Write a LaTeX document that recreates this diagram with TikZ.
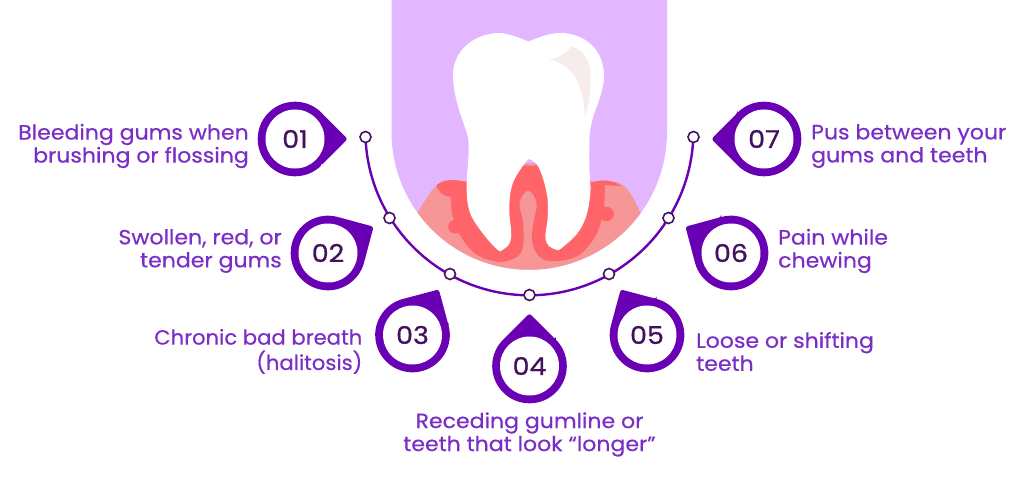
\documentclass[tikz,border=0pt]{standalone}
\usepackage{fontspec}
\setmainfont{Poppins}[FakeStretch=1.07,FakeBold=0.45]
\newfontfamily\numfont{Poppins}[FakeStretch=1.1,FakeBold=0.8]
\definecolor{lav}{HTML}{E2B7FF}
\definecolor{gumlight}{HTML}{F69696}
\definecolor{gumred}{HTML}{FF6468}
\definecolor{ring}{HTML}{6A00B4}
\definecolor{numc}{HTML}{43125F}
\definecolor{labc}{HTML}{7A2EC6}
\definecolor{shine}{HTML}{F6ECEC}
\tikzset{
  lab/.style={text=labc,font=\fontsize{20.6}{23}\selectfont,inner sep=0pt},
  num/.style={text=numc,font=\numfont\fontsize{24.5}{26}\selectfont,inner sep=0pt},
  dot/.style={circle,draw=numc,fill=white,line width=1.6pt,minimum size=11pt,inner sep=0pt}
}
\begin{document}
\begin{tikzpicture}[x=1pt,y=1pt,yscale=-1]
\useasboundingbox (0,0) rectangle (1025,500);
\fill[white] (0,0) rectangle (1025,500);
% lavender U
\fill[lav] (391.5,0) -- (391.5,132) arc (180:0:137.75) -- (667,0) -- cycle;
\begin{scope}
\clip (391.5,0) -- (391.5,132) arc (180:0:137.75) -- (667,0) -- cycle;
% gum
\fill[gumlight] (410,225) -- plot[smooth,tension=.7] coordinates {(418.3,211.7) (436.7,185) (453.3,180) (466.7,182)}
  -- (480,163.3) -- (580,163.3) -- (591.7,182.3) -- plot[smooth,tension=.7] coordinates {(591.7,182.3) (605,180.7) (625,186.7) (640,211.7)}
  -- (650,225) -- (650,300) -- (410,300) -- cycle;
% inflamed band
\fill[gumred] (436.7,185) .. controls (442,181) and (448,180) .. (453.3,180) -- (466.7,182)
  -- (480,165.5) -- (580,165.5) -- (591.7,182.3) .. controls (600,180) and (608,180) .. (614.3,182.3)
  -- (621.7,186) -- (605,185)
  -- (604.3,206.7) -- (601,221.7)
  -- plot[smooth,tension=.7] coordinates {(601,221.7) (594,238.3) (579,255) (558.3,261) (541.7,258.3) (532.5,243.3) (533.3,223.3) (536.7,203.3) (528.3,190.7) (519.5,203) (523,223) (522,250) (510,260) (493.3,261) (473.3,252) (458.5,233)}
  -- (451.7,213) -- (450.7,196.7)
  .. controls (445,197) and (438,193) .. (436.7,185) -- cycle;
\fill[gumred] (606.7,214) circle (7.3);
\fill[gumred] (455,226.7) circle (6.8);
\end{scope}
% tooth
\fill[white] (528.5,41.5) .. controls (515,36) and (505,33) .. (500,33)
  .. controls (475,33) and (453,50) .. (453,75)
  .. controls (453,100) and (465,125) .. (468,137)
  .. controls (470,150) and (467,170) .. (466.7,183.3)
  -- plot[smooth,tension=.7] coordinates {(466.7,183.3) (468.3,206.7) (476.7,225) (496,248.3) (503.3,249.3) (511,238.3) (509.3,210) (511.7,186.7) (520,170) (528.5,159)}
  -- plot[smooth,tension=.7] coordinates {(528.5,159) (538.3,166.7) (546.7,193.3) (547.7,216.7) (545.7,240) (555,249.3) (563.3,246.7) (581.7,226.7) (590,196.7) (589.3,166.7) (589.3,150)}
  .. controls (589,135) and (590,130) .. (593,117)
  .. controls (597,105) and (604,90) .. (604,76)
  .. controls (604,50) and (585,33) .. (560,33)
  .. controls (550,33) and (540,37) .. (528.5,41.5) -- cycle;
\begin{scope}[xscale=1/3,yscale=1/3,shift={(1140,0)}]
\fill[shine] (505,178) .. controls (535,178) and (555,160) .. (575,140)
  .. controls (615,150) and (632,190) .. (632,230)
  .. controls (632,280) and (625,320) .. (615,350)
  .. controls (610,280) and (595,235) .. (570,212)
  .. controls (550,192) and (530,180) .. (505,178) -- cycle;
\end{scope}
% arc and markers
\draw[ring,line width=2.4pt] (365.5,137) arc (178:2:164);
\node[dot] (d1) at (365.5,137) {};
\node[dot] (d2) at (389.5,218) {};
\node[dot] (d3) at (450,274) {};
\node[dot] (d4) at (529.5,295) {};
\node[dot] (d5) at (609,274) {};
\node[dot] (d6) at (668.5,218) {};
\node[dot] (d7) at (693.5,137) {};
% pins
\foreach \nm/\px/\py/\dr/\tx in {p1/295/139/0/01,p2/328/253/-30/02,p3/412.5/335/-60/03,p4/529.5/366/-90/04,p5/647/335/-120/05,p6/731/253/-150/06,p7/764/139/180/07}{
  \begin{scope}[shift={(\px,\py)},rotate=\dr]
    \fill[ring] (45:37.3) arc (45:315:37.3)
      [rounded corners=2.5pt] -- (52.6,0) -- (45:37.3) [sharp corners] -- cycle;
    \fill[white] (0,0) circle (29.5);
  \end{scope}
  \node[num] (\nm) at (\px,\py) {\tx};
}
% labels
\node[lab,anchor=east,align=right] (t1) at (249,146) {Bleeding gums when\\brushing or flossing};
\node[lab,anchor=east,align=right] (t2) at (282,251) {Swollen, red, or\\tender gums};
\node[lab,anchor=east] (t3) at (362.5,352.5) {\def\arraystretch{.885}\scalebox{.96}[1]{\begin{tabular}{@{}r@{}}Chronic bad breath\\(halitosis)\end{tabular}}};
\node[lab,anchor=center,align=center] (t4) at (529.5,434.5) {Receding gumline or\\teeth that look “longer”};
\node[lab,anchor=west,align=left] (t5) at (696,351.5) {Loose or shifting\\teeth};
\node[lab,anchor=west,align=left] (t6) at (778,251) {Pain while\\chewing};
\node[lab,anchor=west,align=left] (t7) at (811,146) {Pus between your\\gums and teeth};
\end{tikzpicture}
\end{document}
